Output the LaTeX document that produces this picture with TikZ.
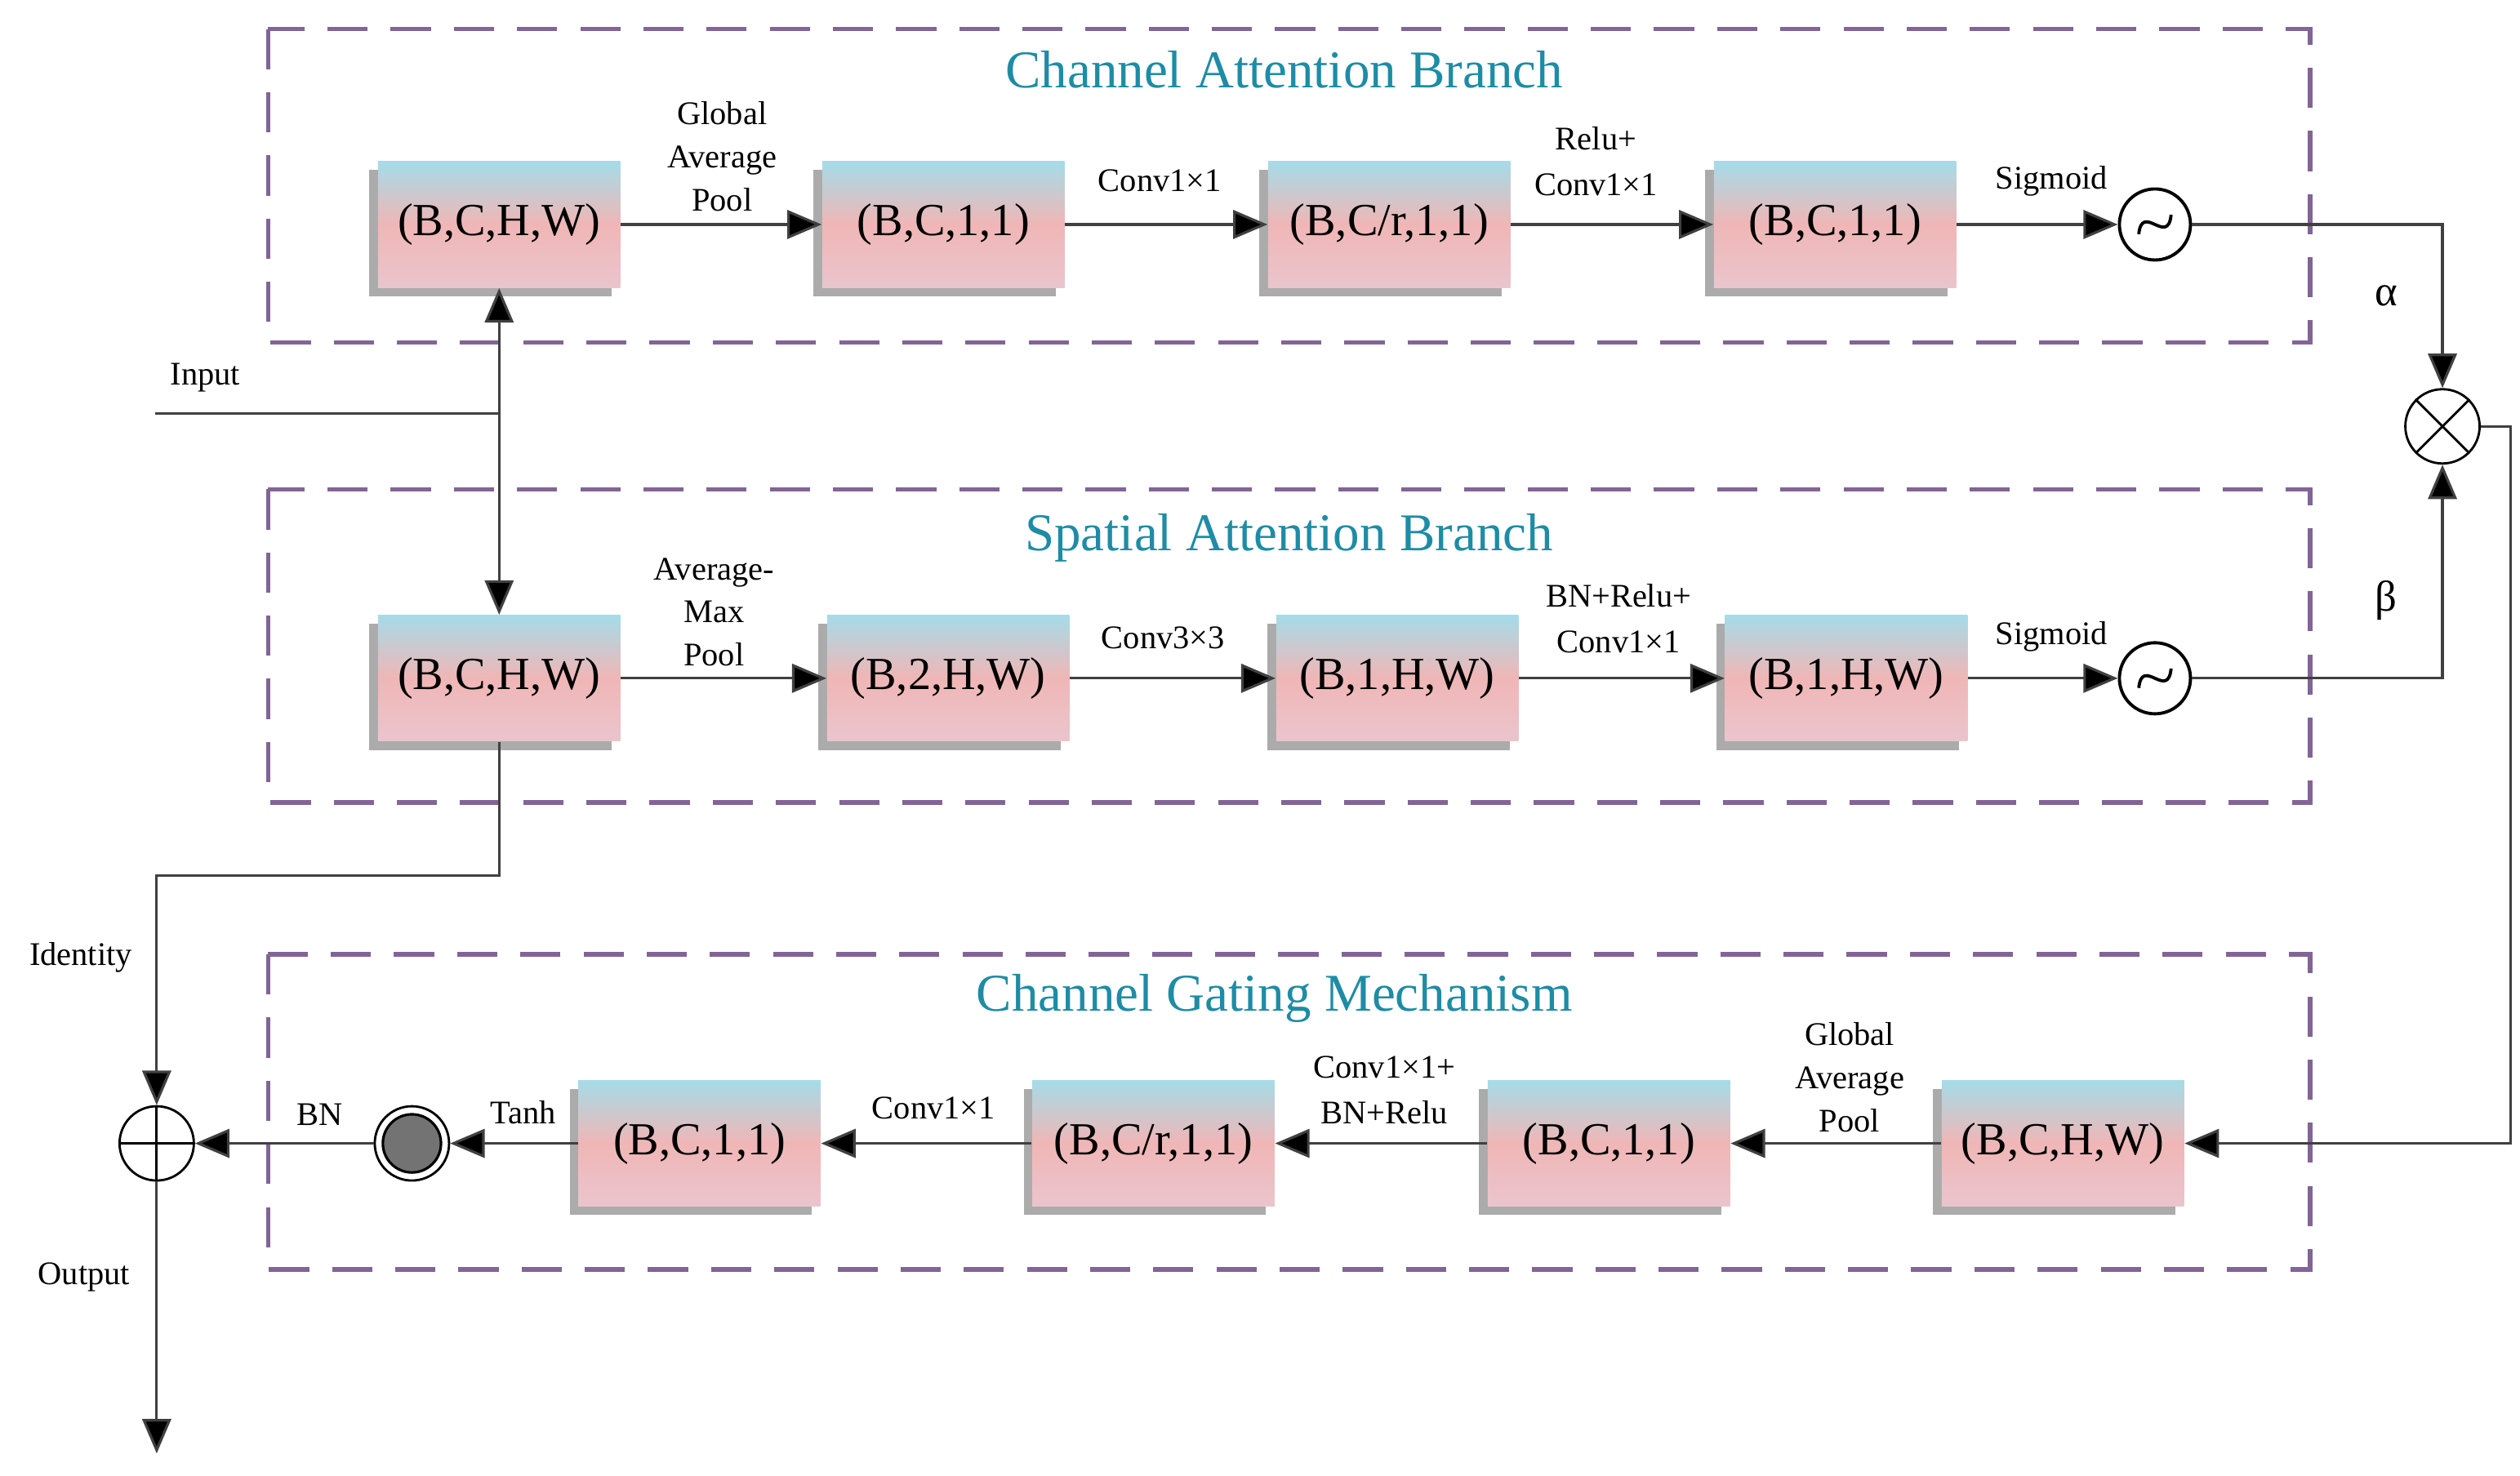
\documentclass[tikz,border=0pt]{standalone}
\usepackage{fontspec}
\setmainfont{Liberation Serif}
\usetikzlibrary{arrows.meta,shadows,shapes.geometric,calc}
\definecolor{ttl}{RGB}{30,140,165}
\definecolor{dash}{RGB}{130,100,150}
\definecolor{tc}{RGB}{165,220,232}
\definecolor{mc}{RGB}{240,182,182}
\definecolor{bc}{RGB}{228,212,228}
\pgfdeclareverticalshading{boxsh}{100bp}{color(0bp)=(bc);color(25bp)=(bc!50!mc);color(50bp)=(mc);color(65bp)=(tc!60!mc);color(75bp)=(tc);color(100bp)=(tc)}
\begin{document}
\begin{tikzpicture}[x=0.01978cm,y=-0.01978cm,
  box/.style={draw=none,shading=boxsh,minimum width=150*0.01978cm,minimum height=78*0.01978cm,inner sep=0pt,font=\fontsize{16}{16}\selectfont,drop shadow={shadow xshift=-3pt,shadow yshift=-3pt,fill=black!55,opacity=.6}},
  grp/.style={draw=dash,line width=1.6pt,dash pattern=on 14pt off 8pt},
  ln/.style={draw=black!75,line width=0.9pt},
  arr/.style={ln,-{Triangle[length=12pt,width=10pt,fill=black]}},
  lab/.style={font=\fontsize{11.5}{13}\selectfont,align=center,inner sep=0pt},
  ttlst/.style={text=ttl,font=\fontsize{18.5}{20}\selectfont},
  sig/.style={circle,draw,line width=1.1pt,minimum size=44*0.01978cm,inner sep=0pt,fill=white}]
\useasboundingbox (0,0) rectangle (1560,913.5);
% groups
\draw[grp] (166,18) rectangle (1430,212);
\draw[grp] (166,303) rectangle (1430,497);
\draw[grp] (166,591) rectangle (1430,786);
\node[ttlst] (t1) at (795,43) {Channel Attention Branch};
\node[ttlst] (t2) at (798,333) {Spatial Attention Branch};
\node[ttlst] (t3) at (789,618) {Channel Gating Mechanism};
% row 1
\node[box] (a1) at (309,139) {(B,C,H,W)};
\node[box] (a2) at (584,139) {(B,C,1,1)};
\node[box] (a3) at (860,139) {(B,C/r,1,1)};
\node[box] (a4) at (1136,139) {(B,C,1,1)};
\node[sig] (s1) at (1334,139) {};
\draw[line width=1.1pt] ($(s1)+(-10,6)$) .. controls ($(s1)+(-8,-14)$) and ($(s1)+(8,14)$) .. ($(s1)+(10,-6)$);
% row 2
\node[box] (b1) at (309,420) {(B,C,H,W)};
\node[box] (b2) at (587,420) {(B,2,H,W)};
\node[box] (b3) at (865,420) {(B,1,H,W)};
\node[box] (b4) at (1143,420) {(B,1,H,W)};
\node[sig] (s2) at (1334,420) {};
\draw[line width=1.1pt] ($(s2)+(-10,6)$) .. controls ($(s2)+(-8,-14)$) and ($(s2)+(8,14)$) .. ($(s2)+(10,-6)$);
% row 3
\node[box] (c1) at (1277,708) {(B,C,H,W)};
\node[box] (c2) at (996,708) {(B,C,1,1)};
\node[box] (c3) at (714,708) {(B,C/r,1,1)};
\node[box] (c4) at (433,708) {(B,C,1,1)};
\node[circle,draw,line width=0.8pt,minimum size=46*0.01978cm,inner sep=0pt] (bn) at (255,708) {};
\node[circle,draw,line width=0.9pt,fill=black!55,minimum size=36*0.01978cm,inner sep=0pt] (bni) at (255,708) {};
\node[ellipse,draw,line width=0.8pt,minimum width=46*0.01978cm,minimum height=46*0.01978cm,inner sep=0pt] (plus) at (97,708) {};
\draw[line width=0.8pt] (plus.north) -- (plus.south) (plus.west) -- (plus.east);
\node[ellipse,draw,line width=0.8pt,minimum width=46*0.01978cm,minimum height=46*0.01978cm,inner sep=0pt] (mul) at (1512,264) {};
\draw[line width=0.8pt] (mul.north west) -- (mul.south east) (mul.north east) -- (mul.south west);
% coordinates
\coordinate (inS) at (96,256);
\coordinate (inJ) at (309,256);
\coordinate (outE) at (97,900);
\coordinate (rt) at (1554,264);
% connectors
\draw[arr] (a1) -- (a2);
\draw[arr] (a2) -- (a3);
\draw[arr] (a3) -- (a4);
\draw[arr] (a4) -- (s1);
\draw[arr] (s1) -| (mul.north);
\draw[arr] (b1) -- (b2);
\draw[arr] (b2) -- (b3);
\draw[arr] (b3) -- (b4);
\draw[arr] (b4) -- (s2);
\draw[arr] (s2) -| (mul.south);
\draw[arr] (mul.east) -- (rt) |- (c1.east);
\draw[arr] (c1) -- (c2);
\draw[arr] (c2) -- (c3);
\draw[arr] (c3) -- (c4);
\draw[arr] (c4) -- (bn);
\draw[arr] (bn) -- (plus.east);
\draw[ln] (inS) -- (inJ);
\draw[arr] (inJ) -- (a1.south);
\draw[arr] (inJ) -- (b1.north);
\draw[arr] (b1.south) -- ++(0,83) -| (plus.north);
\draw[arr] (plus.south) -- (outE);
% labels
\node[lab] (l1) at (447,97) {Global\\[2pt]Average\\[2pt]Pool};
\node[lab] (l2) at (718,112) {Conv1×1};
\node[lab] (l3) at (988,100) {Relu+\\[3pt]Conv1×1};
\node[lab] (l4) at (1270,112) {Sigmoid};
\node[lab] (l5) at (442,379) {Average-\\[2pt]Max\\[2pt]Pool};
\node[lab] (l6) at (720,395) {Conv3×3};
\node[lab] (l7) at (1002,383) {BN+Relu+\\[3pt]Conv1×1};
\node[lab] (l8) at (1270,394) {Sigmoid};
\node[lab] (l9) at (1145,667) {Global\\[2pt]Average\\[2pt]Pool};
\node[lab] (l10) at (857,675) {Conv1×1+\\[3pt]BN+Relu};
\node[lab] (l11) at (578,686) {Conv1×1};
\node[lab] (l12) at (324,689) {Tanh};
\node[lab] (l13) at (198,690) {BN};
\node[lab] (l14) at (127,234) {Input};
\node[lab] (l15) at (50,593) {Identity};
\node[lab] (l16) at (52,791) {Output};
\node[lab,font=\fontsize{15}{15}\selectfont] (al) at (1477,183) {α};
\node[lab,font=\fontsize{15}{15}\selectfont] (be) at (1477,372) {β};
\end{tikzpicture}
\end{document}
